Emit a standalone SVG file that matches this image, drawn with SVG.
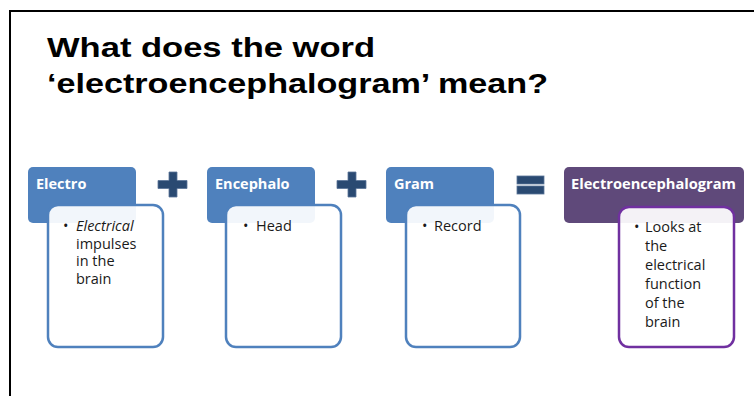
<svg xmlns="http://www.w3.org/2000/svg" width="754" height="396" viewBox="0 0 754 396">
<style>
.title{font-family:"Liberation Sans",Arial,sans-serif;font-weight:bold;font-size:28px;fill:#000}
.hdr{fill:#4F81BD}
.hdrp{fill:#5F497A}
.htxt{font-family:"Open Sans","Liberation Sans",sans-serif;font-weight:bold;font-size:14.5px;fill:#fff}
.body{fill:#fff;fill-opacity:0.93;stroke:#4F81BD;stroke-width:2.5}
.bodyp{fill:#fff;fill-opacity:0.93;stroke:#7030A0;stroke-width:2.5}
.btxt{font-family:"Open Sans","Liberation Sans",sans-serif;font-size:14.5px;fill:#1a1a1a}
.op{fill:#2A4A72;stroke:#5A7598;stroke-width:0.8}
</style>
<rect x="0" y="0" width="754" height="396" fill="#fff"/>
<path d="M10 396 V11 H754" fill="none" stroke="#000" stroke-width="2"/>
<text class="title" x="47" y="57" textLength="328" lengthAdjust="spacingAndGlyphs">What does the word</text>
<text class="title" x="47" y="93" textLength="501" lengthAdjust="spacingAndGlyphs">‘electroencephalogram’ mean?</text>
<g id="electro">
<rect class="hdr" x="28" y="167" width="108" height="56" rx="5"/>
<text class="htxt" x="36" y="189">Electro</text>
<rect class="body" x="48" y="205" width="115" height="142" rx="10"/>
<text class="btxt"><tspan x="63" y="231">•</tspan><tspan x="76" y="231" font-style="italic">Electrical</tspan><tspan x="76" y="248.5">impulses</tspan><tspan x="76" y="266">in the</tspan><tspan x="76" y="283.5">brain</tspan></text>
</g>
<g id="encephalo">
<rect class="hdr" x="207" y="167" width="108" height="56" rx="5"/>
<text class="htxt" x="215" y="189">Encephalo</text>
<rect class="body" x="226" y="205" width="115" height="142" rx="10"/>
<text class="btxt"><tspan x="243" y="231">•</tspan><tspan x="256" y="231">Head</tspan></text>
</g>
<g id="gram">
<rect class="hdr" x="386" y="167" width="108" height="56" rx="5"/>
<text class="htxt" x="394" y="189">Gram</text>
<rect class="body" x="406" y="205" width="114" height="142" rx="10"/>
<text class="btxt" font-size="15.5"><tspan x="422" y="231">•</tspan><tspan x="434" y="231">Record</tspan></text>
</g>
<g id="eeg">
<rect class="hdrp" x="564" y="167" width="180" height="56" rx="5"/>
<text class="htxt" x="571" y="189" textLength="165" lengthAdjust="spacingAndGlyphs">Electroencephalogram</text>
<rect class="bodyp" x="619" y="207" width="115" height="140" rx="10"/>
<text class="btxt" font-size="15"><tspan x="634" y="232">•</tspan><tspan x="645" y="232">Looks at</tspan><tspan x="645" y="251">the</tspan><tspan x="645" y="270">electrical</tspan><tspan x="645" y="289">function</tspan><tspan x="645" y="308">of the</tspan><tspan x="645" y="327">brain</tspan></text>
</g>
<g id="operators">
<path class="op" d="M169 172 H177 V180.5 H187 V188.5 H177 V197 H169 V188.5 H158 V180.5 H169 Z"/>
<path class="op" d="M348 172 H356 V180.5 H366 V188.5 H356 V197 H348 V188.5 H337 V180.5 H348 Z"/>
<rect class="op" x="517" y="176" width="27" height="8"/>
<rect class="op" x="517" y="186" width="27" height="8"/>
</g>
</svg>
